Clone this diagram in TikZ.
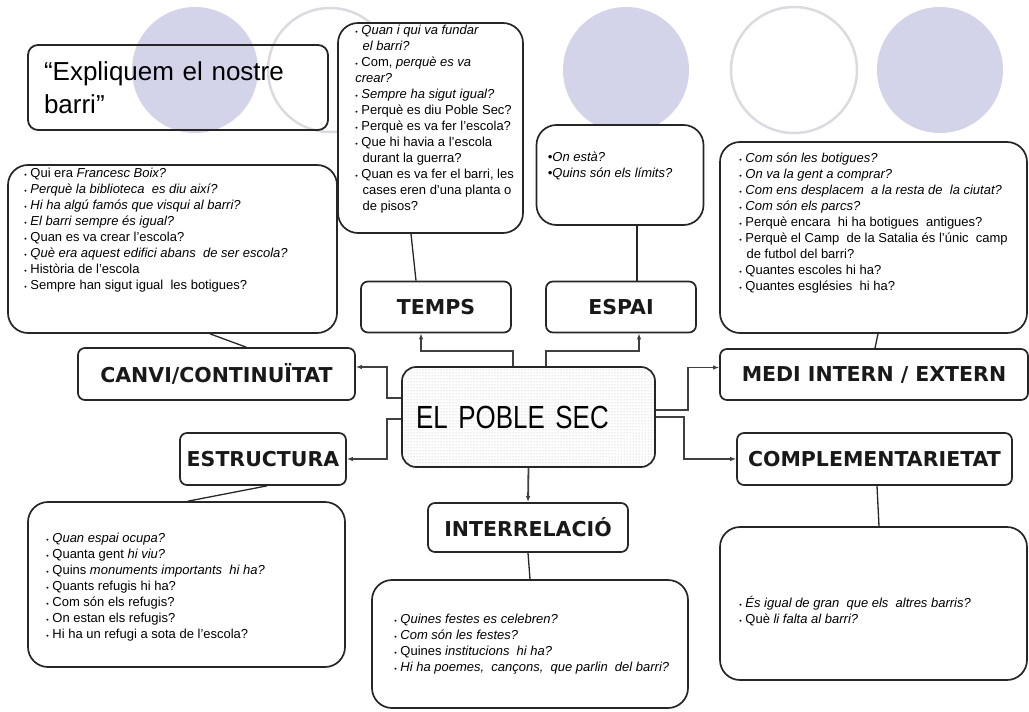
\documentclass[tikz,border=0pt]{standalone}
\usepackage{fontspec}
\setmainfont{Liberation Sans}
\newfontfamily\headfont{DejaVu Sans}
\newfontfamily\centrefont[FakeStretch=0.81]{Liberation Sans}
\usetikzlibrary{arrows.meta,patterns}

\definecolor{lavanda}{RGB}{211,211,233}
\definecolor{anellagris}{RGB}{218,218,224}

\newcommand{\punt}{{\fontsize{7}{7}\selectfont\textbullet}\ }

\tikzstyle{titol} = [rectangle, draw=black!85, line width=1.8pt, rounded corners=10pt,
                     text width=268pt, inner xsep=16pt, align=left,
                     font=\fontsize{26}{33}\selectfont]
\tikzstyle{qbox} = [rectangle, draw=black!85, line width=1.7pt, fill=white,
                    rounded corners=20pt]
\tikzstyle{qtext} = [anchor=north west, inner sep=0pt, align=left,
                     font=\fontsize{13}{16}\selectfont]
\tikzstyle{topic} = [rectangle, draw=black!85, line width=1.7pt, fill=white,
                     rounded corners=7pt, text=black!90,
                     font=\headfont\bfseries\fontsize{20.5}{22}\selectfont]
\tikzstyle{centre} = [rectangle, draw=black!85, line width=1.7pt, rounded corners=14pt,
                      pattern=dots, pattern color=black!30, text width=225pt,
                      inner xsep=14pt, align=left,
                      font=\centrefont\fontsize{32}{34}\selectfont]
\tikzstyle{link} = [draw=black!85, line width=1.3pt]
\tikzstyle{branch} = [draw=black!75, line width=1.8pt, -{Latex[length=6pt,width=4.5pt]}]

\begin{document}
\begin{tikzpicture}[x=1pt,y=-1pt]
  \useasboundingbox (0,0) rectangle (1029,712);

  %% circles behind
  \fill [lavanda] (195,70) circle [radius=63pt];
  \draw [anellagris, line width=2.5pt] (330,70) circle [radius=62pt];
  \fill [lavanda] (626,70) circle [radius=63pt];
  \draw [anellagris, line width=2.5pt] (794,70) circle [radius=63pt];
  \fill [lavanda] (940,70) circle [radius=63pt];

  \node (titol) [titol, minimum height=85pt] at (178,87.5)
    {“Expliquem el nostre\\barri”};

  %% question boxes
  \node (qtemps) [qbox, minimum width=185pt, minimum height=210pt] at (430.5,128) {};
  \node (qtempstext) [qtext] at ([shift={(18,3)}]qtemps.north west) {
    \punt\textit{Quan i qui va fundar}\\
    \ \ \textit{el barri?}\\
    \punt Com, \textit{perquè es va}\\
    \textit{crear?}\\
    \punt\textit{Sempre ha sigut igual?}\\
    \punt Perquè es diu Poble Sec?\\
    \punt Perquè es va fer l'escola?\\
    \punt Que hi havia a l'escola\\
    \ \ durant la guerra?\\
    \punt Quan es va fer el barri, les\\
    \ \ cases eren d'una planta o\\
    \ \ de pisos?};

  \node (qcanvi) [qbox, minimum width=329pt, minimum height=168pt] at (172.5,249) {};
  \node (qcanvitext) [qtext] at ([shift={(17,4)}]qcanvi.north west) {
    \punt Qui era \textit{Francesc Boix?}\\
    \punt\textit{Perquè la biblioteca\ \ es diu així?}\\
    \punt\textit{Hi ha algú famós que visqui al barri?}\\
    \punt\textit{El barri sempre és igual?}\\
    \punt Quan es va crear l'escola?\\
    \punt\textit{Què era aquest edifici abans\ \ de ser escola?}\\
    \punt Història de l'escola\\
    \punt Sempre han sigut igual\ \ les botigues?};

  \node (qespai) [qbox, minimum width=167pt, minimum height=100pt] at (620,175) {};
  \node (qespaitext) [qtext] at ([shift={(12,28)}]qespai.north west) {
    \textit{•On està?}\\
    \textit{•Quins són els límits?}};

  \node (qmedi) [qbox, minimum width=307pt, minimum height=191pt] at (873.5,237.5) {};
  \node (qmeditext) [qtext] at ([shift={(20,12)}]qmedi.north west) {
    \punt\textit{Com són les botigues?}\\
    \punt\textit{On va la gent a comprar?}\\
    \punt\textit{Com ens desplacem\ \ a la resta de\ \ la ciutat?}\\
    \punt\textit{Com són els parcs?}\\
    \punt Perquè encara\ \ hi ha botigues\ \ antigues?\\
    \punt Perquè el Camp\ \ de la Satalia és l'únic\ \ camp\\
    \ \ de futbol del barri?\\
    \punt Quantes escoles hi ha?\\
    \punt Quantes esglésies\ \ hi ha?};

  \node (qestructura) [qbox, minimum width=317pt, minimum height=165pt] at (186.5,584.5) {};
  \node (qestructuratext) [qtext] at ([shift={(19,32)}]qestructura.north west) {
    \punt\textit{Quan espai ocupa?}\\
    \punt Quanta gent \textit{hi viu?}\\
    \punt Quins \textit{monuments importants\ \ hi ha?}\\
    \punt Quants refugis hi ha?\\
    \punt Com són els refugis?\\
    \punt On estan els refugis?\\
    \punt Hi ha un refugi a sota de l'escola?};

  \node (qinterrel) [qbox, minimum width=316pt, minimum height=128pt] at (530,644) {};
  \node (qinterreltext) [qtext] at ([shift={(23,35)}]qinterrel.north west) {
    \punt\textit{Quines festes es celebren?}\\
    \punt\textit{Com són les festes?}\\
    \punt Quines \textit{institucions\ \ hi ha?}\\
    \punt\textit{Hi ha poemes,\ \ cançons,\ \ que parlin\ \ del barri?}};

  \node (qcompl) [qbox, minimum width=307pt, minimum height=153pt] at (873.5,603.5) {};
  \node (qcompltext) [qtext] at ([shift={(20,70)}]qcompl.north west) {
    \punt\textit{És igual de gran\ \ que els\ \ altres barris?}\\
    \punt Què \textit{li falta al barri?}};

  %% topics
  \node (centre) [centre, minimum height=100pt] at (528.5,417) {EL POBLE SEC};
  \node (temps) [topic, minimum width=150pt, minimum height=51pt] at (436,307) {TEMPS};
  \node (espai) [topic, minimum width=150pt, minimum height=51pt] at (621,307) {ESPAI};
  \node (canvi) [topic, minimum width=277pt, minimum height=52pt] at (216.5,374) {CANVI/CONTINUÏTAT};
  \node (medi) [topic, minimum width=308pt, minimum height=51pt] at (874,374.5) {MEDI INTERN / EXTERN};
  \node (estructura) [topic, minimum width=166pt, minimum height=52pt] at (263,459) {ESTRUCTURA};
  \node (compl) [topic, minimum width=275pt, minimum height=52pt] at (874.5,459) {COMPLEMENTARIETAT};
  \node (interrel) [topic, minimum width=200pt, minimum height=49pt] at (528,527.5) {INTERRELACIÓ};

  %% from the centre out
  \draw [branch] ([xshift=-15.5pt]centre.north) -- ++(0,-15) -| ([xshift=-15pt]temps.south);
  \draw [branch] ([xshift=17.5pt]centre.north) -- ++(0,-15) -| ([xshift=18pt]espai.south);
  \draw [branch] ([yshift=19pt]centre.west) -- ++(-14,0) |- ([yshift=7pt]canvi.east);
  \draw [branch] ([yshift=-2pt]centre.west) -- ++(-14,0) |- (estructura.east);
  \draw [branch] ([yshift=7pt]centre.east) -- ++(32,0) |- ([yshift=7pt]medi.west);
  \draw [branch] (centre.east) -- ++(28,0) |- (compl.west);
  \draw [branch] (centre.south) -- (interrel.north);

  %% topics to their questions
  \draw [link] ([xshift=-20pt]temps.north) -- ([xshift=-19.5pt]qtemps.south);
  \draw [link] ([xshift=16pt]espai.north) -- ([xshift=17pt]qespai.south);
  \draw [link] ([xshift=169pt]canvi.north west) -- ([xshift=37.5pt]qcanvi.south);
  \draw [link] ([xshift=4pt]estructura.south) -- ([xshift=1.5pt]qestructura.north);
  \draw [link] ([xshift=1pt]medi.north) -- ([xshift=4.5pt]qmedi.south);
  \draw [link] ([xshift=2.5pt]compl.south) -- ([xshift=5.5pt]qcompl.north);
  \draw [link] (interrel.south) -- (qinterrel.north);
\end{tikzpicture}
\end{document}
